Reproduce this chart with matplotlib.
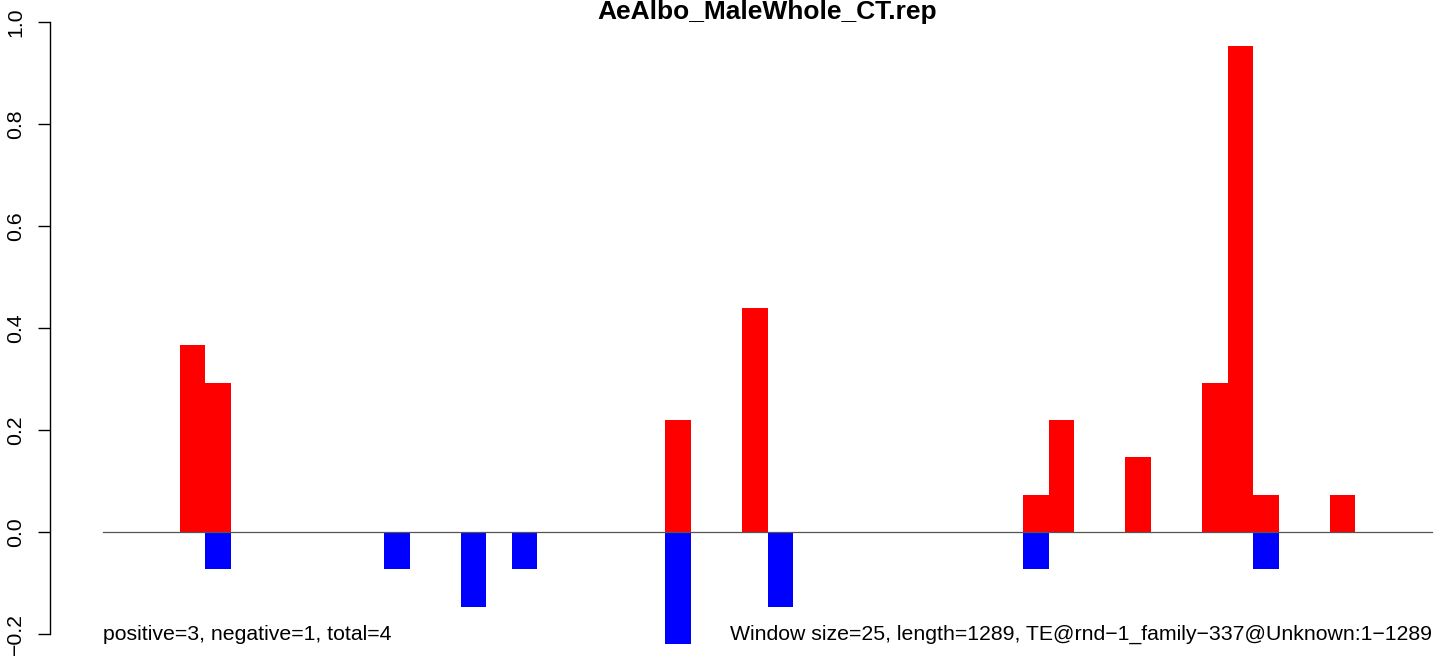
import matplotlib
matplotlib.use('Agg')
import matplotlib.pyplot as plt

plt.rcParams['font.family'] = ['Liberation Sans', 'DejaVu Sans']

title = 'AeAlbo_MaleWhole_CT.rep'
n_windows = 52
# window index -> value
pos_idx = [3, 4, 22, 25, 36, 37, 40, 43, 44, 45, 48]
pos_val = [0.366, 0.293, 0.22, 0.44, 0.073, 0.22, 0.147, 0.293, 0.952, 0.073, 0.073]
neg_idx = [4, 11, 14, 16, 22, 26, 36, 45]
neg_val = [-0.073, -0.073, -0.147, -0.073, -0.22, -0.147, -0.073, -0.073]
left_note = 'positive=3, negative=1, total=4'
right_note = 'Window size=25, length=1289, TE@rnd\u22121_family\u2212337@Unknown:1\u22121289'
yticks = [-0.2, 0.0, 0.2, 0.4, 0.6, 0.8, 1.0]

W, H = 1452, 666
fig = plt.figure(figsize=(W / 100, H / 100), dpi=100)

# axes in pixel terms
ax_l, ax_r, ax_t, ax_b = 50, 1452, 8, 652
ax = fig.add_axes([ax_l / W, 1 - ax_b / H, (ax_r - ax_l) / W, (ax_b - ax_t) / H])

px_per_x = (1432 - 103) / n_windows
ax.set_xlim(-(103 - ax_l) / px_per_x, n_windows + (ax_r - 1432) / px_per_x)
px_per_y = (634 - 22) / 1.2
ax.set_ylim(-0.2 - (ax_b - 634) / px_per_y, 1.0 + (22 - ax_t) / px_per_y)

ax.bar(pos_idx, pos_val, width=1, align='edge', color='#ff0000', linewidth=0)
ax.bar(neg_idx, neg_val, width=1, align='edge', color='#0000ff', linewidth=0)
ax.plot([0, n_windows], [0, 0], color='#555555', linewidth=0.9)

for s in ['top', 'right', 'bottom']:
    ax.spines[s].set_visible(False)
ax.spines['left'].set_bounds(-0.2, 1.0)
ax.spines['left'].set_linewidth(1.0)
ax.set_xticks([])
ax.set_yticks(yticks)
ax.set_yticklabels(['\u22120.2', '0.0', '0.2', '0.4', '0.6', '0.8', '1.0'],
                   rotation=90, va='center', fontsize=15.3)
ax.tick_params(axis='y', length=9, width=1.0, pad=9)

ax.text(0, -0.2, left_note, ha='left', va='center', fontsize=15.3)
ax.text(n_windows, -0.2, right_note, ha='right', va='center', fontsize=15.3)

fig.text(767 / W, 1 - 12 / H, title, ha='center', va='center', fontsize=19, fontweight='bold')

fig.savefig('out.png', dpi=100)
